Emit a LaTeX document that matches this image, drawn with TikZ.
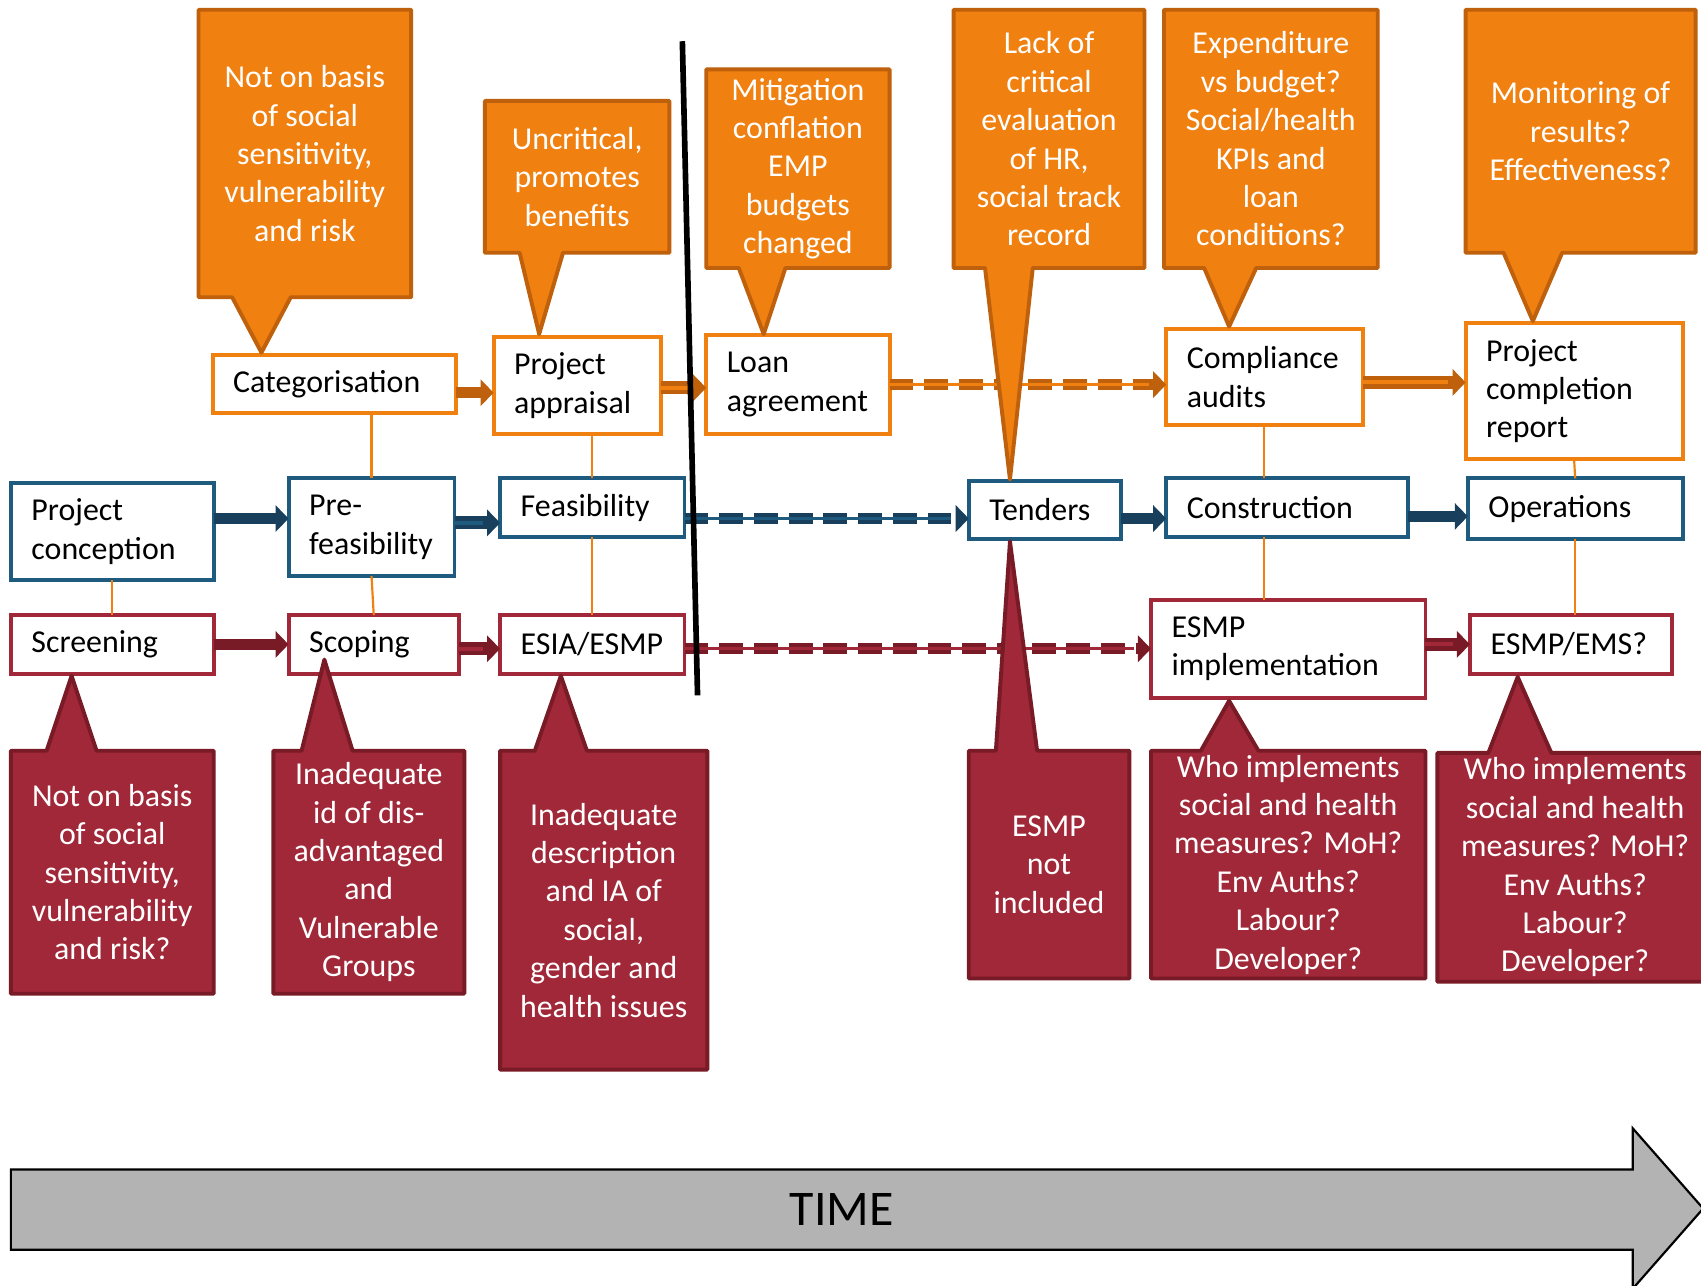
\documentclass[tikz,border=0pt]{standalone}
\usepackage{fontspec}
\setmainfont{Carlito}
\usetikzlibrary{arrows.meta}

\definecolor{orangefill}{RGB}{240,128,16}
\definecolor{orangedark}{RGB}{190,96,12}
\definecolor{blueline}{RGB}{31,91,126}
\definecolor{bluedark}{RGB}{24,64,92}
\definecolor{redline}{RGB}{160,40,56}
\definecolor{reddark}{RGB}{120,27,38}
\definecolor{timegray}{RGB}{179,179,179}

\hyphenpenalty=10000
\newcommand\boxfont{\fontsize{14.7}{17.7}\selectfont}
\pgfdeclareradialshading{vignette}{\pgfpoint{0bp}{0bp}}{color(0bp)=(white); color(40bp)=(white); color(71bp)=(black!12)}

\tikzset{
  box/.style={draw, line width=1.8pt, fill=white, anchor=north west, align=left, inner xsep=9.5pt, inner ysep=1pt, outer sep=0pt, font=\boxfont},
  obox/.style={box, draw=orangefill},
  bbox/.style={box, draw=blueline},
  rbox/.style={box, draw=redline},
  ocall/.style={fill=orangefill, draw=orangedark, line width=1.8pt, line join=round},
  rcall/.style={fill=redline, draw=reddark, line width=1.8pt, line join=round},
  note/.style={text=white, align=center, font=\boxfont},
  link/.style={draw=orangefill, line width=1pt},
  flow/.style={line width=5pt, -{Triangle[length=6pt,width=12pt]}},
  oflow/.style={flow, draw=orangedark},
  bflow/.style={flow, draw=bluedark},
  rflow/.style={flow, draw=reddark},
  oflow2/.style={oflow, line width=6pt, postaction={draw=orangefill, line width=1.8pt, -, shorten >=8pt}},
  bflow2/.style={bflow, line width=6pt, postaction={draw=blueline, line width=1.8pt, -, shorten >=8pt}},
  rflow2/.style={rflow, line width=6pt, postaction={draw=redline, line width=1.8pt, -, shorten >=8pt}},
  odash/.style={oflow, dash pattern=on 11pt off 5pt, postaction={draw=orangefill, line width=1.5pt, solid, -, shorten >=8pt}},
  bdash/.style={bflow, dash pattern=on 11pt off 5pt, postaction={draw=blueline, line width=1.5pt, solid, -, shorten >=8pt}},
  rdash/.style={rflow, dash pattern=on 11pt off 5pt, postaction={draw=redline, line width=1.5pt, solid, -, shorten >=8pt}}
}

\begin{document}
\begin{tikzpicture}[x=0.5pt, y=-0.5pt]
  \useasboundingbox (0,0) rectangle (1568,1185);
  \shade[shading=vignette] (0,0) rectangle (1568,1185);

  % finance row
  \node[obox, text width=93pt, minimum height=27pt] (cat) at (196,327) {Categorisation};
  \node[obox, text width=58pt, minimum height=44.5pt] (appr) at (455,311) {Project\\appraisal};
  \node[obox, text width=65.5pt, minimum height=45.5pt] (loan) at (651,309) {Loan\\agreement};
  \node[obox, text width=71.5pt, minimum height=44.5pt] (compl) at (1075,303) {Compliance\\audits};
  \node[obox, text width=81pt, minimum height=62.5pt] (pcr) at (1351,298) {Project\\completion\\report};

  % project row
  \node[bbox, text width=74.5pt, minimum height=45pt] (conc) at (10,445) {Project\\conception};
  \node[bbox, text width=57.5pt, minimum height=45pt] (pref) at (266,441) {Pre-\\feasibility};
  \node[bbox, text width=66pt, minimum height=27pt] (feas) at (461,441) {Feasibility};
  \node[bbox, text width=51pt, minimum height=27pt] (tend) at (893,443) {Tenders};
  \node[bbox, text width=92.5pt, minimum height=27pt] (constr) at (1075,441) {Construction};
  \node[bbox, text width=80pt, minimum height=28pt] (ops) at (1353,441) {Operations};

  % safeguard row
  \node[rbox, text width=74.5pt, minimum height=27pt] (scr) at (10,567) {Screening};
  \node[rbox, text width=59.5pt, minimum height=27pt] (scop) at (266,567) {Scoping};
  \node[rbox, text width=66pt, minimum height=27pt] (esia) at (461,567) {ESIA/ESMP};
  \node[rbox, text width=107.5pt, minimum height=45pt] (esmpimp) at (1061,553) {ESMP\\implementation};
  \node[rbox, text width=74pt, minimum height=27pt] (esmpems) at (1355,567) {ESMP/EMS?};

  % links between rows
  \draw[link] (pref.north |- cat.south) -- (pref.north);
  \draw[link] (feas.north |- appr.south) -- (feas.north);
  \draw[link] (conc.south) -- (scr.north);
  \draw[link] (pref.south) -- (scop.north);
  \draw[link] (feas.south) -- (esia.north);
  \draw[link] (compl.south) -- (compl.south |- constr.north);
  \draw[link] (compl.south |- constr.south) -- (compl.south |- esmpimp.north);
  \draw[link] (pcr.south) -- (ops.north);
  \draw[link] (ops.south) -- (ops.south |- esmpems.north);

  % flows
  \draw[oflow] ([yshift=-4pt]cat.east) -- ([yshift=-4pt]cat.east -| appr.west);
  \draw[oflow2] ([yshift=-1pt]appr.east) -- ([yshift=-1pt]appr.east -| loan.west);
  \draw[odash] (loan.east) -- (loan.east -| compl.west);
  \draw[oflow2] ([yshift=-2.5pt]compl.east) -- ([yshift=-2.5pt]compl.east -| pcr.west);
  \draw[bflow] ([yshift=6pt]conc.east) -- ([yshift=6pt]conc.east -| pref.west);
  \draw[bflow2] ([yshift=2pt]pref.east) -- ([yshift=2pt]pref.east -| feas.west);
  \draw[bdash] ([yshift=-5pt]feas.east) -- ([yshift=-5pt]feas.east -| tend.west);
  \draw[bflow] ([yshift=-4pt]tend.east) -- ([yshift=-4pt]tend.east -| constr.west);
  \draw[bflow] ([yshift=-4pt]constr.east) -- ([yshift=-4pt]constr.east -| ops.west);
  \draw[rflow] (scr.east) -- (scr.east -| scop.west);
  \draw[rflow2] ([yshift=-2pt]scop.east) -- ([yshift=-2pt]scop.east -| esia.west);
  \draw[rdash] ([yshift=-2pt]esia.east) -- ([yshift=-2pt]esia.east -| esmpimp.west);
  \draw[rflow2] ([yshift=2pt]esmpimp.east) -- ([yshift=2pt]esmpimp.east -| esmpems.west);

  % orange callouts
  \draw[ocall] (183,9) -- (379,9) -- (379,274) -- (268,274) -- (241,325) -- (214,274) -- (183,274) -- cycle;
  \draw[ocall] (447,93) -- (617,93) -- (617,233) -- (519,233) -- (497,308) -- (479,233) -- (447,233) -- cycle;
  \draw[ocall] (651,64) -- (820,64) -- (820,247) -- (724,247) -- (704,308) -- (681,247) -- (651,247) -- cycle;
  \draw[ocall] (879,9) -- (1055,9) -- (1055,247) -- (952,247) -- (931,442) -- (908,247) -- (879,247) -- cycle;
  \draw[ocall] (1073,9) -- (1270,9) -- (1270,247) -- (1158,247) -- (1133,301) -- (1110,247) -- (1073,247) -- cycle;
  \draw[ocall] (1351,9) -- (1563,9) -- (1563,233) -- (1440,233) -- (1413,296) -- (1386,233) -- (1351,233) -- cycle;
  \node[note] (noteCat) at (281,141.5) {Not on basis\\of social\\sensitivity,\\vulnerability\\and risk};
  \node[note] (noteAppr) at (532,163) {Uncritical,\\promotes\\benefits};
  \node[note] (noteLoan) at (735.5,155.5) {Mitigation\\conflation\\EMP\\budgets\\changed};
  \node[note] (noteTend) at (967,128) {Lack of\\critical\\evaluation\\of HR,\\social track\\record};
  \node[note] (noteCompl) at (1171.5,128) {Expenditure\\vs budget?\\Social/health\\KPIs and\\loan\\conditions?};
  \node[note] (notePcr) at (1457,121) {Monitoring of\\results?\\Effectiveness?};

  % red callouts
  \draw[rcall] (10,692) -- (43,692) -- (66,623) -- (89,692) -- (197,692) -- (197,916) -- (10,916) -- cycle;
  \draw[rcall] (252,692) -- (278,692) -- (299,608) -- (325,692) -- (428,692) -- (428,916) -- (252,916) -- cycle;
  \draw[rcall] (461,692) -- (493,692) -- (517,623) -- (541,692) -- (652,692) -- (652,986) -- (461,986) -- cycle;
  \draw[rcall] (893,692) -- (918,692) -- (931,499) -- (956,692) -- (1041,692) -- (1041,902) -- (893,902) -- cycle;
  \draw[rcall] (1061,692) -- (1107,692) -- (1133,646) -- (1160,692) -- (1314,692) -- (1314,902) -- (1061,902) -- cycle;
  \draw[rcall] (1325,694) -- (1372,694) -- (1399,624) -- (1430,694) -- (1580,694) -- (1580,905) -- (1325,905) -- cycle;
  \node[note] (riskScr) at (103.5,804) {Not on basis\\of social\\sensitivity,\\vulnerability\\and risk?};
  \node[note] (riskScop) at (340,804) {Inadequate\\id of dis-\\advantaged\\and\\Vulnerable\\Groups};
  \node[note] (riskEsia) at (556.5,839) {Inadequate\\description\\and IA of\\social,\\gender and\\health issues};
  \node[note] (riskTend) at (967,797) {ESMP\\not\\included};
  \node[note] (riskImp) at (1187.5,797) {Who implements\\social and health\\measures? MoH?\\Env Auths?\\Labour?\\Developer?};
  \node[note] (riskEms) at (1452,799.5) {Who implements\\social and health\\measures? MoH?\\Env Auths?\\Labour?\\Developer?};

  % cut-off line
  \coordinate (cutTop) at (629,38);
  \coordinate (cutBot) at (643,641);
  \draw[line width=2.6pt] (cutTop) -- (cutBot);

  % time arrow
  \draw[fill=timegray, line width=1pt, line join=miter] (10,1078) -- (1505,1078) -- (1505,1040) -- (1570,1114) -- (1505,1188) -- (1505,1152) -- (10,1152) -- cycle;
  \node[font=\fontsize{23}{28}\selectfont] (time) at (776,1115) {TIME};
\end{tikzpicture}
\end{document}
